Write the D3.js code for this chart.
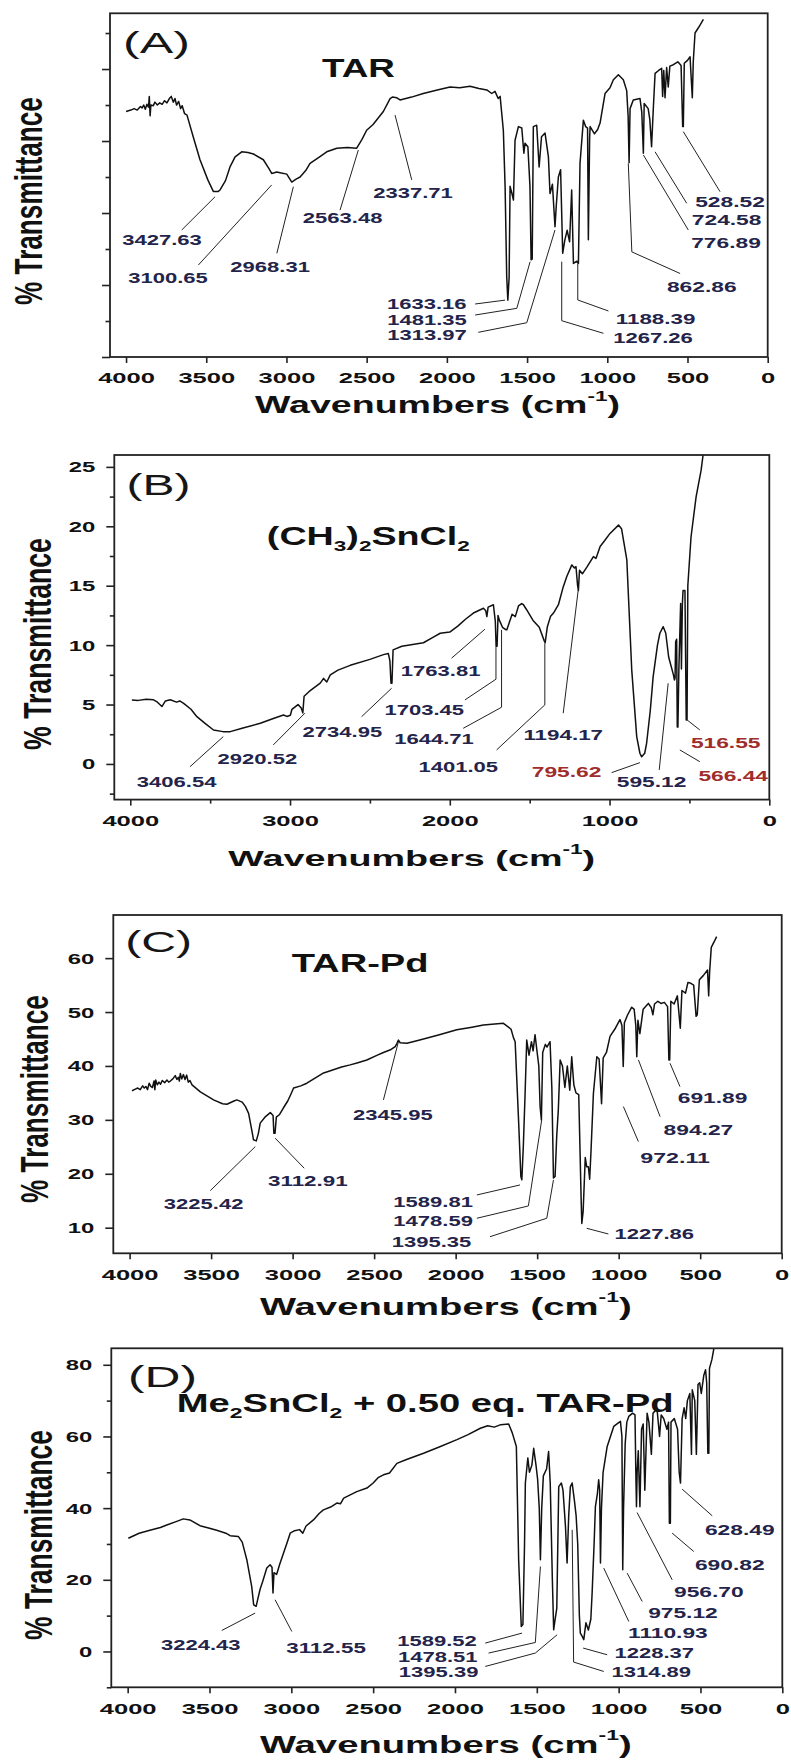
<!DOCTYPE html>
<html><head><meta charset="utf-8">
<script src="https://cdn.jsdelivr.net/npm/d3@7"></script>
<style>body{margin:0;background:#fff}svg{display:block}</style>
</head><body>
<svg id="c" width="791" height="1760"></svg>
<script>
// ---------- DATA (wavenumber cm-1, % transmittance) ----------
const specA = [[4000,34.1],[3970,34.3],[3950,34.5],[3930,34.3],[3910,34.8],[3900,34.6],[3890,35.0],[3880,34.4],[3870,35.1],[3860,34.7],[3855,36.2],[3850,33.5],[3845,35.0],[3830,34.9],[3820,35.4],[3805,35.0],[3790,35.3],[3775,35.1],[3760,35.6],[3745,35.3],[3730,35.9],[3718,36.2],[3705,35.4],[3695,35.9],[3685,35.0],[3672,35.5],[3660,34.5],[3650,34.9],[3635,33.8],[3620,33.6],[3580,30.5],[3539,27.4],[3490,24.6],[3456,23.0],[3425,23.0],[3414,23.2],[3380,24.5],[3352,26.4],[3320,27.8],[3279,28.5],[3240,28.4],[3206,28.2],[3144,27.4],[3110,26.2],[3092,25.5],[3060,25.7],[3040,25.6],[2998,25.4],[2967,24.3],[2940,24.7],[2915,25.0],[2880,25.9],[2853,26.9],[2800,27.7],[2749,28.5],[2686,29.0],[2620,29.1],[2562,29.0],[2530,30.2],[2500,31.5],[2460,32.3],[2396,34.1],[2354,35.9],[2340,36.1],[2312,36.0],[2292,35.7],[2220,36.1],[2147,36.6],[2060,37.1],[1980,37.5],[1920,37.4],[1856,37.6],[1800,37.3],[1751,37.1],[1720,36.6],[1700,36.9],[1680,35.9],[1668,36.2],[1648,31.5],[1637,23.7],[1627,11.2],[1620,7.9],[1612,11.0],[1606,23.7],[1592,22.5],[1585,21.8],[1575,30.1],[1554,32.0],[1533,31.8],[1520,28.3],[1513,29.7],[1495,29.2],[1482,23.7],[1475,13.5],[1468,13.6],[1461,32.0],[1440,32.2],[1425,26.4],[1410,30.6],[1388,31.1],[1367,27.8],[1357,22.7],[1342,24.0],[1326,18.1],[1318,21.0],[1305,25.0],[1291,26.0],[1282,18.0],[1278,14.4],[1265,16.2],[1250,17.6],[1235,16.0],[1222,23.2],[1211,13.0],[1190,13.3],[1180,13.0],[1170,26.9],[1149,32.9],[1135,32.0],[1123,31.8],[1118,16.3],[1110,30.5],[1107,32.0],[1080,31.0],[1060,31.6],[1045,32.5],[1014,36.6],[983,37.4],[962,38.5],[931,39.2],[900,38.5],[879,37.0],[870,33.4],[864,27.0],[858,34.5],[838,35.7],[796,35.9],[785,34.0],[775,28.3],[770,35.2],[745,34.5],[735,33.0],[724,29.2],[712,35.0],[702,39.4],[680,39.8],[661,40.1],[655,36.2],[648,39.8],[640,36.0],[630,40.2],[620,37.5],[610,40.4],[588,40.6],[560,41.0],[540,40.5],[530,32.0],[526,32.0],[520,40.8],[500,41.2],[484,41.7],[475,38.0],[470,36.0],[464,41.0],[453,45.0],[430,45.8],[401,46.9]];

const specB = [[3990,5.39],[3950,5.35],[3900,5.45],[3854,5.4],[3830,5.2],[3802,4.83],[3780,5.3],[3750,5.4],[3710,5.2],[3690,5.3],[3666,5.1],[3620,4.6],[3583,3.98],[3530,3.4],[3479,2.86],[3420,2.72],[3374,2.72],[3300,3.0],[3186,3.42],[3100,3.85],[3041,4.12],[3020,4.0],[2998,4.1],[2988,4.6],[2950,5.0],[2930,4.7],[2920,4.3],[2912,5.7],[2880,6.1],[2811,6.8],[2790,7.2],[2770,6.9],[2748,7.5],[2700,7.9],[2623,8.3],[2500,8.8],[2415,9.2],[2385,9.3],[2375,8.7],[2368,6.8],[2362,6.8],[2355,9.6],[2300,9.9],[2165,10.2],[2100,10.7],[2060,11.0],[2000,11.1],[1950,11.6],[1900,12.2],[1852,12.7],[1789,13.1],[1775,12.9],[1768,12.4],[1760,13.2],[1727,13.4],[1715,12.0],[1710,9.9],[1704,9.9],[1698,12.5],[1690,12.1],[1670,11.5],[1650,11.3],[1643,11.3],[1630,11.8],[1610,12.6],[1590,12.4],[1570,13.3],[1550,13.5],[1539,13.4],[1520,13.0],[1480,12.1],[1440,11.5],[1410,10.4],[1403,10.2],[1390,11.5],[1370,12.4],[1351,12.7],[1320,13.4],[1290,14.9],[1267,15.8],[1236,16.75],[1220,16.5],[1210,16.6],[1200,15.0],[1195,14.6],[1188,16.3],[1170,16.0],[1140,16.6],[1101,17.45],[1085,17.3],[1059,18.3],[1030,18.8],[997,19.4],[944,20.1],[925,19.8],[892,17.2],[861,7.9],[830,2.3],[810,0.9],[799,0.6],[780,0.9],[768,1.74],[745,4.5],[727,7.35],[700,10.0],[685,11.0],[664,11.55],[648,11.0],[630,9.0],[600,7.5],[594,7.07],[590,7.2],[586,10.3],[580,10.5],[576,3.1],[572,3.1],[566,8.0],[555,13.5],[550,8.0],[544,13.5],[540,14.6],[528,14.6],[520,3.7],[515,3.7],[510,15.0],[490,19.1],[458,22.5],[427,24.7],[405,27.0]];

const specC = [[3985,35.4],[3965,35.7],[3950,35.9],[3935,35.6],[3920,36.3],[3910,35.9],[3900,36.2],[3890,35.6],[3880,36.8],[3870,36.2],[3860,36.0],[3850,37.2],[3845,35.6],[3840,37.4],[3830,36.5],[3820,37.0],[3810,36.6],[3800,37.3],[3785,36.9],[3771,37.4],[3760,37.0],[3750,37.2],[3735,37.6],[3720,38.2],[3710,37.5],[3700,37.9],[3695,37.2],[3689,38.6],[3680,37.6],[3670,38.4],[3660,37.5],[3650,38.3],[3640,37.0],[3630,37.3],[3617,36.5],[3566,35.2],[3485,33.7],[3430,33.0],[3403,32.9],[3360,33.5],[3342,33.7],[3310,33.3],[3290,32.5],[3270,31.2],[3250,28.0],[3240,26.3],[3223,26.1],[3210,27.5],[3199,29.4],[3170,30.5],[3137,31.35],[3120,30.8],[3115,27.5],[3108,27.5],[3100,30.5],[3080,31.0],[3057,32.2],[3030,33.5],[3010,34.8],[2994,35.9],[2950,36.3],[2913,36.8],[2860,37.8],[2810,38.7],[2750,39.3],[2700,39.8],[2647,40.2],[2600,40.6],[2545,41.1],[2480,42.0],[2443,42.5],[2400,43.0],[2371,43.6],[2360,44.2],[2351,44.8],[2340,44.3],[2299,44.2],[2250,44.6],[2197,45.0],[2100,45.8],[1993,46.7],[1900,47.2],[1830,47.6],[1760,47.8],[1707,47.9],[1680,47.3],[1660,46.8],[1645,45.2],[1635,44.5],[1615,30.6],[1600,19.5],[1594,18.9],[1585,25.0],[1574,34.9],[1564,44.8],[1550,42.0],[1535,44.5],[1525,42.8],[1513,45.8],[1500,42.5],[1490,40.0],[1482,32.5],[1474,30.0],[1466,42.5],[1450,44.0],[1440,43.5],[1421,44.5],[1410,36.0],[1400,19.2],[1390,19.5],[1380,27.0],[1370,32.0],[1359,41.1],[1345,40.0],[1330,36.0],[1315,40.0],[1300,35.5],[1288,41.7],[1275,36.5],[1262,35.0],[1245,34.7],[1230,15.0],[1226,10.8],[1218,13.0],[1205,23.0],[1196,21.3],[1186,21.3],[1178,19.0],[1170,24.0],[1155,34.9],[1134,41.7],[1120,41.3],[1105,33.0],[1095,41.5],[1075,42.5],[1053,45.5],[1020,47.0],[992,48.6],[980,47.5],[972,39.9],[965,48.0],[945,49.5],[920,50.9],[905,50.5],[895,47.5],[889,41.7],[882,48.5],[870,46.0],[850,50.5],[818,51.6],[800,50.8],[790,49.5],[780,51.5],[760,52.0],[740,51.6],[720,51.8],[700,51.0],[692,41.1],[687,41.1],[680,52.0],[660,51.5],[640,53.0],[628,49.0],[622,47.0],[612,54.0],[590,53.5],[575,55.5],[562,55.4],[540,55.0],[525,49.2],[518,49.5],[505,56.0],[480,56.8],[455,57.8],[448,53.0],[442,57.5],[432,62.0],[415,63.0],[399,64.0]];

const specD = [[3996,31.6],[3930,33.0],[3864,33.8],[3800,34.6],[3761,35.3],[3700,36.3],[3660,37.0],[3620,36.7],[3558,35.1],[3500,34.4],[3456,33.8],[3400,33.0],[3374,32.3],[3324,32.1],[3300,30.5],[3272,25.6],[3242,18.1],[3230,13.0],[3215,12.6],[3205,14.6],[3190,17.5],[3175,19.5],[3150,23.3],[3130,24.2],[3118,23.5],[3112,16.3],[3106,22.0],[3090,21.5],[3070,24.5],[3048,27.4],[3025,30.5],[3007,33.0],[2980,33.7],[2950,34.0],[2930,33.0],[2910,35.0],[2865,36.7],[2830,38.5],[2804,39.5],[2760,40.3],[2722,41.4],[2700,41.2],[2680,42.8],[2640,43.7],[2600,44.6],[2538,45.6],[2500,47.0],[2470,48.5],[2437,49.3],[2400,49.8],[2355,52.5],[2300,53.5],[2192,55.3],[2100,57.0],[1988,59.1],[1920,60.5],[1845,62.3],[1800,63.0],[1760,62.6],[1720,63.3],[1672,63.5],[1650,61.0],[1625,57.2],[1611,25.6],[1595,7.0],[1585,7.5],[1575,30.0],[1570,47.0],[1555,54.0],[1545,50.0],[1530,52.0],[1519,56.7],[1505,52.0],[1495,48.0],[1485,40.0],[1478,25.6],[1470,40.0],[1460,49.0],[1440,51.0],[1428,55.8],[1418,47.0],[1405,20.0],[1397,6.05],[1388,9.0],[1378,12.0],[1366,46.0],[1350,47.0],[1340,45.0],[1325,35.0],[1315,24.7],[1305,38.0],[1295,46.0],[1284,47.0],[1270,42.0],[1260,38.0],[1250,30.0],[1240,10.0],[1234,5.1],[1220,4.0],[1213,3.3],[1200,8.0],[1185,6.0],[1170,9.0],[1162,16.3],[1150,30.0],[1142,40.4],[1130,44.0],[1122,47.9],[1116,45.0],[1111,24.7],[1105,40.0],[1095,50.0],[1070,57.2],[1050,60.0],[1030,62.8],[1010,63.5],[989,64.2],[980,60.0],[975,22.8],[970,40.0],[960,58.0],[950,64.0],[938,65.6],[915,66.5],[900,66.0],[895,50.0],[891,40.4],[887,50.0],[880,56.0],[870,40.4],[860,62.0],[850,63.5],[840,45.0],[826,66.5],[815,64.0],[800,55.0],[790,66.5],[780,67.0],[765,67.5],[750,60.0],[740,66.0],[725,65.0],[705,62.0],[695,64.0],[690,35.8],[684,35.8],[680,64.0],[660,65.0],[640,62.0],[630,50.0],[622,47.0],[612,65.0],[600,68.0],[590,65.0],[580,70.0],[565,72.0],[555,55.0],[550,73.0],[535,70.0],[525,55.0],[515,74.5],[505,75.0],[495,72.0],[480,77.0],[469,78.6],[462,75.0],[455,55.3],[449,55.3],[445,79.0],[430,81.5],[418,84.6],[405,88.0]];

// peak labels (text)
const peaksA = ["3427.63","3100.65","2968.31","2563.48","2337.71","1633.16","1481.35","1313.97","1267.26","1188.39","862.86","776.89","724.58","528.52"];
const peaksB = ["3406.54","2920.52","2734.95","1763.81","1703.45","1644.71","1401.05","1194.17","795.62","595.12","516.55","566.44"];
const peaksC = ["3225.42","3112.91","2345.95","1589.81","1478.59","1395.35","1227.86","972.11","894.27","691.89"];
const peaksD = ["3224.43","3112.55","1589.52","1478.51","1395.39","1314.89","1228.37","1110.93","975.12","956.70","690.82","628.49"];

// axis tick values
const xTicks500 = [4000,3500,3000,2500,2000,1500,1000,500,0];
const xTicks1000 = [4000,3000,2000,1000,0];
const xMinorB = [3500,2500,1500,500];
const yMajorA = [0,10,20,30,40], yMinorA = [5,15,25,35,45];
const yMajorB = [0,5,10,15,20,25], yMinorB = [-2.5,2.5,7.5,12.5,17.5,22.5];
const yMajorC = [10,20,30,40,50,60];
const yMajorD = [0,20,40,60,80], yMinorD = [-10,10,30,50,70];

// ---------- LAYOUT (annotation anchors in data units: [labelW,labelV,[[w,v],...]]) ----------
const annA = [
 [3776,16.25,[[3653,17.64],[3445,22.26]]],
 [3738,11.0,[[3549,12.78],[3092,23.9]]],
 [3102,12.6,[[3060,14.4],[2957,23.65]]],
 [2650,19.3,[[2666,20.4],[2552,28.75]]],
 [2211,22.8,[[2219,24.6],[2323,33.6]]],
 [2125,7.46,[[1824,7.36],[1637,7.9]]],
 [2124,5.14,[[1824,5.83],[1564,6.76],[1481,13.24]]],
 [2124,3.06,[[1804,3.43],[1502,4.76],[1326,17.64]]],
 [715,2.68,[[1024,3.29],[1284,5.04],[1284,13.24]]],
 [699,5.375,[[993,6.39],[1184,7.92],[1184,13.0]]],
 [411,9.76,[[546,11.6],[847,14.6],[869,26.9]]],
 [260,15.9,[[495,17.64],[775,28.06]]],
 [256,19.0,[[505,21.35],[702,28.5]]],
 [235,21.57,[[297,22.96],[526,31.3]]]
];
const annB = [
 [3710,-1.49,[[3626,-0.23],[3418,2.30]]],
 [3204,0.48,[[3105,1.6],[2907,4.27]]],
 [2672,2.72,[[2552,3.98],[2364,6.37]]],
 [2057,7.83,[[1989,8.9],[1780,11.34]]],
 [2160,4.55,[[1905,5.39],[1711,7.13],[1711,9.87]]],
 [2099,2.16,[[1916,3.0],[1676,4.77],[1676,11.28]]],
 [1947,-0.23,[[1707,1.18],[1405,4.97],[1405,10.16]]],
 [1290,2.44,[[1290,4.27],[1196,14.65]]],
 [1269,-0.65,[[987,-0.73],[810,0.11]]],
 [737,-1.54,[[689,-0.5],[633,6.79]]],
 [273,1.74,[[435,2.86],[514,3.7]]],
 [226,-1.01,[[435,0.19],[560,1.18]]]
];
const annC = [
 [3546,14.53,[[3505,16.87],[3229,25.04]]],
 [2907,18.73,[[2929,21.03],[3107,26.6]]],
 [2385,30.92,[[2443,33.7],[2351,44.5]]],
 [2138,14.83,[[1870,16.07],[1605,17.93]]],
 [2138,11.25,[[1870,11.75],[1554,14.03],[1472,30.0]]],
 [2148,7.4,[[1789,8.33],[1441,11.75],[1400,18.86]]],
 [782,8.96,[[1063,8.83],[1196,9.89]]],
 [654,22.88,[[879,25.97],[971,32.46]]],
 [511,28.14,[[746,30.6],[879,41.13]]],
 [424,34.02,[[624,36.17],[685,40.5]]]
];
const annD = [
 [3553,1.87,[[3425,5.86],[3221,10.71]]],
 [2788,0.95,[[2997,5.58],[3099,14.42]]],
 [2110,2.98,[[1815,2.34],[1590,5.13]]],
 [2105,-1.39,[[1795,-0.45],[1509,2.51],[1478,23.7]]],
 [2100,-5.58,[[1815,-4.18],[1509,-0.45],[1376,4.66]]],
 [801,-5.75,[[1091,-5.58],[1275,-2.96],[1284,33.95]]],
 [782,-0.45,[[1070,-0.92],[1217,0.95]]],
 [699,5.13,[[938,8.37],[1091,23.26]]],
 [607,10.71,[[856,13.95],[948,21.87]]],
 [449,16.74,[[673,20.0],[887,38.77]]],
 [321,24.18,[[541,27.9],[673,33.03]]],
 [260,33.95,[[428,37.85],[612,45.3]]]
];

const FONT = "'Liberation Sans', Arial, Helvetica, sans-serif";
const RED = new Set(["795.62","516.55","566.44"]);

const panels = [
 {spec:specA, peaks:peaksA, ann:annA, box:[110,13.3,767.7,357], yDom:[0,47.74],
  xMaj:xTicks500, xMin:[], yMaj:yMajorA, yMin:yMinorA, yLab:false,
  letter:["(A)",3810,43.6,67], title:{parts:[{t:"TAR"}],w:2551,v:40.1,width:73},
  xt:{cx:437.5,dy:48,width:365}, yt:{cx:27.5,cy:201,len:208}},
 {spec:specB, peaks:peaksB, ann:annB, box:[114.3,455,769.3,799.6], yDom:[-3,26],
  xMaj:xTicks1000, xMin:xMinorB, yMaj:yMajorB, yMin:yMinorB, yLab:true,
  letter:["(B)",3823,23.48,64], title:{parts:[{t:"(CH"},{t:"3",sub:1},{t:")"},{t:"2",sub:1},{t:"SnCl"},{t:"2",sub:1}],w:2510,v:19.13,width:203},
  xt:{cx:411.7,dy:58.7,width:367}, yt:{cx:36.7,cy:644,len:212}},
 {spec:specC, peaks:peaksC, ann:annC, box:[113.3,915,781.7,1253.3], yDom:[5.25,68],
  xMaj:xTicks500, xMin:[], yMaj:yMajorC, yMin:[], yLab:true,
  letter:["(C)",3822,63.08,67], title:{parts:[{t:"TAR-Pd"}],w:2586,v:59.07,width:137},
  xt:{cx:445.8,dy:53.4,width:372}, yt:{cx:34,cy:1099,len:208}},
 {spec:specD, peaks:peaksD, ann:annD, box:[111.3,1348.3,782.3,1687.3], yDom:[-10,84.6],
  xMaj:xTicks500, xMin:[], yMaj:yMajorD, yMin:yMinorD, yLab:true,
  letter:["(D)",3787,76.7,69], title:{parts:[{t:"Me"},{t:"2",sub:1},{t:"SnCl"},{t:"2",sub:1},{t:" + 0.50 eq. TAR-Pd"}],w:2182,v:69.3,width:497},
  xt:{cx:445.8,dy:57.7,width:372}, yt:{cx:37.5,cy:1535,len:210}}
];

const svg = d3.select("#c");
svg.append("rect").attr("width",791).attr("height",1760).attr("fill","#fff");

function addText(parent, o){
  const g = parent.append("g");
  const t = g.append("text").attr("text-anchor", o.anchor||"middle").attr("dominant-baseline","central")
    .attr("font-family", FONT).attr("font-size", o.size).attr("font-weight", o.weight||"bold")
    .attr("fill", o.fill||"#111");
  let shift = 0;
  o.parts.forEach(p=>{
    const s = t.append("tspan").text(p.t);
    const target = p.sub ? o.size*0.36 : p.sup ? -o.size*0.42 : 0;
    if (target !== shift){ s.attr("dy", target - shift); shift = target; }
    if (p.sub || p.sup) s.attr("font-size", o.size*0.6);
  });
  const w = t.node().getBBox().width;
  if (o.rotate){
    g.attr("transform", `translate(${o.x},${o.y}) scale(${o.sx},1) rotate(-90) scale(${o.len/w},1)`);
  } else {
    g.attr("transform", `translate(${o.x},${o.y}) scale(${o.width/w},1)`);
  }
  return g;
}

panels.forEach((P,i)=>{
  const [x0,y0,x1,y1] = P.box;
  const x = d3.scaleLinear().domain([4100,0]).range([x0,x1]);
  const y = d3.scaleLinear().domain(P.yDom).range([y1,y0]);
  const g = svg.append("g");
  const cid = "clip"+i;
  g.append("clipPath").attr("id",cid).append("rect").attr("x",x0).attr("y",y0).attr("width",x1-x0).attr("height",y1-y0);

  // spectrum
  g.append("path").datum(P.spec).attr("clip-path",`url(#${cid})`)
    .attr("fill","none").attr("stroke","#111").attr("stroke-width",1.5).attr("stroke-linejoin","round")
    .attr("d", d3.line().x(d=>x(d[0])).y(d=>y(d[1])));

  // frame
  g.append("rect").attr("x",x0).attr("y",y0).attr("width",x1-x0).attr("height",y1-y0)
    .attr("fill","none").attr("stroke","#222").attr("stroke-width",1.8);

  // x axis
  const xa = g.append("g").attr("transform",`translate(0,${y1})`)
    .call(d3.axisBottom(x).tickValues(P.xMaj).tickSize(6).tickSizeOuter(0).tickFormat(d3.format("d")));
  xa.select(".domain").remove();
  xa.selectAll("line").attr("stroke","#222").attr("stroke-width",1.6);
  xa.selectAll("text").attr("font-family",FONT).attr("font-size",15).attr("font-weight","bold")
    .attr("fill","#111").attr("y",21).attr("dy",null).attr("dominant-baseline","central")
    .each(function(){ const w=this.getComputedTextLength(); const n=this.textContent.length;
      d3.select(this).attr("transform",`scale(${n*14.2/w},1)`); });
  if (P.xMin.length){
    const xm = g.append("g").attr("transform",`translate(0,${y1})`)
      .call(d3.axisBottom(x).tickValues(P.xMin).tickSize(4).tickSizeOuter(0).tickFormat(""));
    xm.select(".domain").remove();
    xm.selectAll("line").attr("stroke","#222").attr("stroke-width",1.6);
  }

  // y axis
  const ya = g.append("g").attr("transform",`translate(${x0},0)`)
    .call(d3.axisLeft(y).tickValues(P.yMaj).tickSize(8).tickSizeOuter(0).tickFormat(P.yLab ? d3.format("d") : ""));
  ya.select(".domain").remove();
  ya.selectAll("line").attr("stroke","#222").attr("stroke-width",1.6);
  ya.selectAll("text").attr("font-family",FONT).attr("font-size",14).attr("font-weight","bold")
    .attr("fill","#111").attr("x",0).attr("dy",null).attr("dominant-baseline","central").attr("text-anchor","end")
    .each(function(){ const w=this.getComputedTextLength(); const n=this.textContent.length;
      if (w>0) d3.select(this).attr("transform",`translate(-19,0) scale(${n*13.3/w},1)`); });
  if (P.yMin.length){
    const ym = g.append("g").attr("transform",`translate(${x0},0)`)
      .call(d3.axisLeft(y).tickValues(P.yMin).tickSize(4.5).tickSizeOuter(0).tickFormat(""));
    ym.select(".domain").remove();
    ym.selectAll("line").attr("stroke","#222").attr("stroke-width",1.6);
  }

  // panel letter and title
  addText(g,{parts:[{t:P.letter[0]}],x:x(P.letter[1]),y:y(P.letter[2]),size:29,weight:"normal",width:P.letter[3],fill:"#161616"});
  addText(g,{parts:P.title.parts,x:x(P.title.w),y:y(P.title.v),size:25,weight:"bold",width:P.title.width,fill:"#111"});

  // axis titles
  addText(g,{parts:[{t:"Wavenumbers (cm"},{t:"-1",sup:1},{t:")"}],x:P.xt.cx,y:y1+P.xt.dy,size:23,weight:"bold",width:P.xt.width,fill:"#111"});
  addText(g,{parts:[{t:"% Transmittance"}],x:P.yt.cx,y:P.yt.cy,size:25,weight:"bold",rotate:true,sx:1.55,len:P.yt.len,fill:"#111"});

  // peak annotations
  P.peaks.forEach((lab,k)=>{
    const a = P.ann[k];
    const col = RED.has(lab) ? "#a02c2c" : "#24244a";
    g.append("path").datum(a[2]).attr("fill","none").attr("stroke","#222").attr("stroke-width",1)
      .attr("d", d3.line().x(d=>x(d[0])).y(d=>y(d[1])));
    addText(g,{parts:[{t:lab}],x:x(a[0]),y:y(a[1]),size:14,weight:"bold",width:lab.length===7?80:70,fill:col});
  });
});
</script>
</body></html>
